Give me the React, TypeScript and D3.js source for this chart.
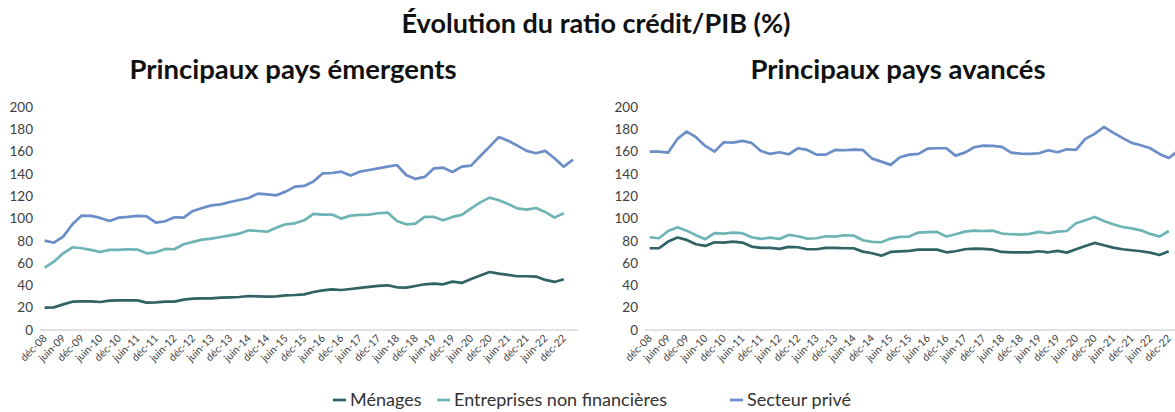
import React from 'react';
import * as d3 from 'd3';

// quarterly categories, déc-08 to mars-23
const quarters = [
  'déc-08', 'mars-09', 'juin-09', 'sept-09', 'déc-09', 'mars-10', 'juin-10', 'sept-10',
  'déc-10', 'mars-11', 'juin-11', 'sept-11', 'déc-11', 'mars-12', 'juin-12', 'sept-12',
  'déc-12', 'mars-13', 'juin-13', 'sept-13', 'déc-13', 'mars-14', 'juin-14', 'sept-14',
  'déc-14', 'mars-15', 'juin-15', 'sept-15', 'déc-15', 'mars-16', 'juin-16', 'sept-16',
  'déc-16', 'mars-17', 'juin-17', 'sept-17', 'déc-17', 'mars-18', 'juin-18', 'sept-18',
  'déc-18', 'mars-19', 'juin-19', 'sept-19', 'déc-19', 'mars-20', 'juin-20', 'sept-20',
  'déc-20', 'mars-21', 'juin-21', 'sept-21', 'déc-21', 'mars-22', 'juin-22', 'sept-22',
  'déc-22', 'mars-23',
];
// only déc / juin are labelled
const tickLabels = quarters.filter((q) => q.startsWith('déc') || q.startsWith('juin'));
const yTicks = [0, 20, 40, 60, 80, 100, 120, 140, 160, 180, 200];

const seriesNames = ['Ménages', 'Entreprises non financières', 'Secteur privé'];
const seriesColors = ['#2f6366', '#6fb4b5', '#6b8dc8'];

// Principaux pays émergents
const emMenages = [
  20.0, 20.3, 23.0, 25.4, 25.7, 25.7, 25.1, 26.3, 26.6, 26.6, 26.6, 24.5, 24.8, 25.4, 25.4, 27.2,
  28.1, 28.4, 28.4, 29.0, 29.3, 29.6, 30.5, 30.2, 29.9, 30.2, 31.1, 31.4, 32.0, 34.1, 35.6, 36.5,
  35.9, 36.8, 37.7, 38.6, 39.5, 40.1, 38.3, 38.0, 39.5, 41.0, 41.6, 41.0, 43.4, 42.2, 45.8, 48.8,
  52.0, 50.6, 49.4, 48.2, 48.2, 47.9, 44.9, 43.1, 45.5,
];
const emEntreprises = [
  55.9, 61.3, 68.8, 74.2, 73.3, 71.8, 70.0, 71.8, 71.8, 72.4, 72.1, 68.8, 69.7, 72.7, 72.4, 76.9,
  79.0, 81.1, 81.9, 83.4, 84.9, 86.4, 89.4, 88.8, 88.2, 91.8, 94.8, 95.7, 98.4, 104.1, 103.5, 103.5,
  99.9, 102.6, 103.2, 103.5, 104.7, 105.3, 97.8, 94.8, 95.4, 101.4, 101.4, 98.4, 101.4, 103.2, 109.1, 114.5,
  118.7, 116.3, 113.0, 109.1, 108.0, 109.4, 105.9, 100.8, 104.7,
];
const emPrive = [
  80.1, 78.3, 83.7, 94.8, 102.6, 102.3, 100.5, 97.8, 100.8, 101.4, 102.3, 102.0, 96.3, 97.5, 101.1, 100.8,
  106.8, 109.4, 111.8, 112.7, 114.8, 116.6, 118.4, 122.3, 121.7, 120.8, 124.1, 128.6, 129.2, 133.1, 140.5, 140.8,
  142.0, 138.5, 142.0, 143.5, 145.0, 146.5, 148.0, 139.0, 135.5, 137.3, 145.0, 145.6, 141.7, 146.5, 147.4, 156.1,
  164.5, 173.1, 169.8, 165.4, 160.6, 158.5, 160.6, 154.0, 146.5, 152.8,
];

// Principaux pays avancés
const avMenages = [
  73.3, 73.3, 79.3, 82.9, 80.8, 76.9, 75.4, 78.7, 78.4, 79.3, 78.4, 74.8, 73.6, 73.6, 72.7, 74.5,
  74.2, 72.4, 72.4, 73.6, 73.6, 73.3, 73.3, 70.3, 68.8, 66.7, 70.0, 70.6, 70.9, 72.1, 72.1, 72.1,
  69.7, 70.6, 72.4, 73.0, 72.7, 72.1, 70.0, 69.7, 69.7, 69.7, 70.6, 69.7, 70.9, 69.4, 72.4, 75.4,
  78.1, 76.0, 73.9, 72.4, 71.5, 70.6, 69.4, 67.3, 70.6,
];
const avEntreprises = [
  83.2, 82.3, 88.8, 92.1, 89.1, 85.0, 81.4, 86.8, 86.5, 87.4, 86.8, 83.2, 81.7, 82.9, 81.7, 85.3,
  84.1, 82.0, 82.3, 84.1, 83.8, 85.0, 84.7, 80.5, 79.0, 78.7, 82.0, 83.5, 83.8, 87.4, 87.7, 88.0,
  83.8, 85.9, 88.2, 89.1, 88.8, 89.1, 86.5, 85.9, 85.6, 86.2, 88.0, 86.8, 88.2, 88.8, 95.7, 98.4,
  101.4, 97.8, 94.8, 92.4, 91.2, 89.4, 86.2, 83.8, 88.8,
];
const avPrive = [
  160.0, 160.0, 159.1, 171.4, 178.0, 172.9, 165.1, 160.0, 168.4, 168.1, 169.6, 167.8, 160.6, 157.9, 159.4, 157.6,
  163.0, 161.5, 157.3, 157.3, 161.5, 161.2, 161.8, 161.5, 153.7, 151.0, 148.1, 154.9, 157.3, 157.9, 162.7, 163.0,
  163.0, 156.4, 159.1, 163.9, 165.4, 165.1, 164.2, 159.1, 158.2, 157.9, 158.5, 161.2, 159.4, 162.1, 161.5, 171.4,
  175.9, 182.1, 177.1, 172.3, 167.8, 165.7, 163.0, 157.9, 154.3, 160.6,
];

const FONT = 'Lato, "Open Sans", sans-serif';
const TICK = '#404040';

const Panel = ({ left, title, series }) => {
  const x = d3.scaleBand().domain(quarters).range([left, left + quarters.length * 9.27]);
  const y = d3.scaleLinear().domain([0, 200]).range([330, 107]);
  const cx = (q) => x(q) + x.bandwidth() / 2;
  const line = d3
    .line()
    .x((d) => cx(quarters[d.i]))
    .y((d) => y(d.v));
  const [x0, x1] = x.range();
  const mid = left + 253;

  return (
    <g>
      <text x={mid} y={79} textAnchor="middle" fontSize={27.5} fontWeight={700} fill="#111">
        {title}
      </text>
      {yTicks.map((t) => (
        <text key={t} x={left - 7} y={y(t)} dy="0.35em" textAnchor="end" fontSize={13.5} fill={TICK}>
          {t}
        </text>
      ))}
      <line x1={x0} x2={x1} y1={y(0)} y2={y(0)} stroke="#d9d9d9" strokeWidth={1.3} />
      {tickLabels.map((q) => (
        <text
          key={q}
          transform={`translate(${cx(q) + 3},${y(0) + 9}) rotate(-45)`}
          textAnchor="end"
          fontSize={10.5}
          fill={TICK}
        >
          {q}
        </text>
      ))}
      {series.map((s, k) => (
        <path
          key={k}
          d={line(s.map((v, i) => ({ i, v })))}
          fill="none"
          stroke={seriesColors[k]}
          strokeWidth={2.7}
          strokeLinejoin="round"
        />
      ))}
    </g>
  );
};

const legendX = [333, 437, 730];

export default function App() {
  return (
    <svg
      width={1175}
      height={412}
      style={{ position: 'absolute', left: 0, top: 0, fontFamily: FONT }}
    >
      <rect width={1175} height={412} fill="#fff" />
      <text x={596} y={33} textAnchor="middle" fontSize={27} fontWeight={700} fill="#111">
        Évolution du ratio crédit/PIB (%)
      </text>
      <Panel left={40} title="Principaux pays émergents" series={[emMenages, emEntreprises, emPrive]} />
      <Panel left={645} title="Principaux pays avancés" series={[avMenages, avEntreprises, avPrive]} />
      {seriesNames.map((n, k) => (
        <g key={n} transform={`translate(${legendX[k]},400)`}>
          <line x1={0} x2={13} y1={0} y2={0} stroke={seriesColors[k]} strokeWidth={2.7} />
          <text x={17} y={0} dy="0.35em" fontSize={18} fill="#333">
            {n}
          </text>
        </g>
      ))}
    </svg>
  );
}
